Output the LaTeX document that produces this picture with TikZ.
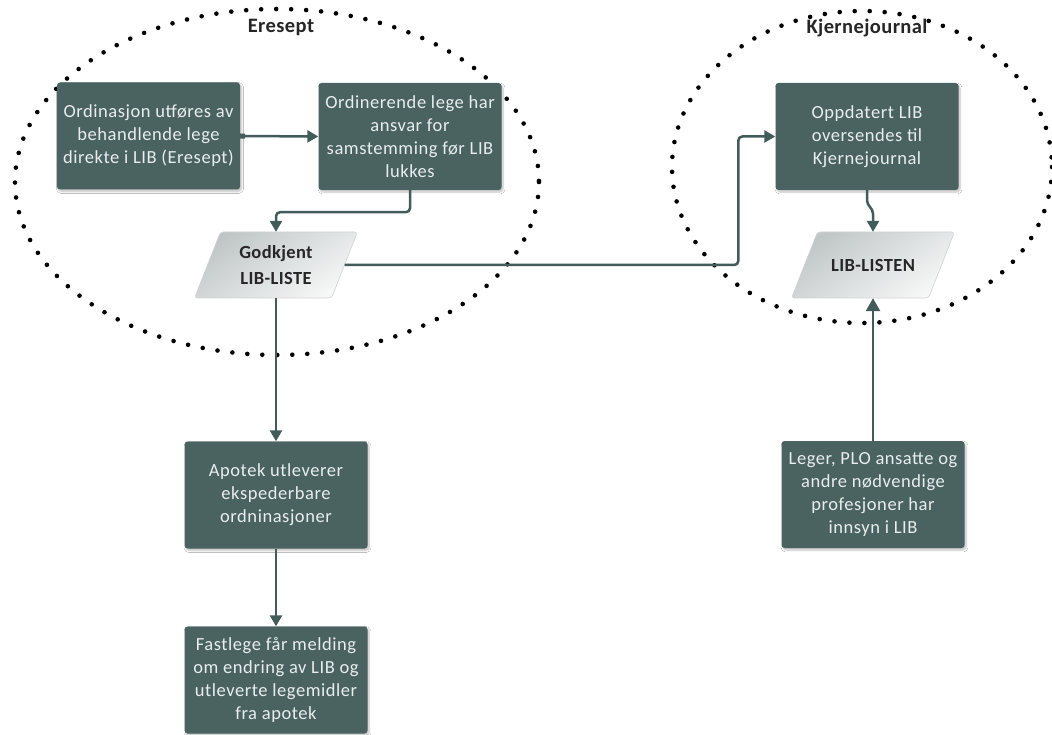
\documentclass[tikz,border=0pt]{standalone}
\usepackage{fontspec}
\setmainfont{Carlito}
\newfontfamily\boxfont{Carlito}[LetterSpace=3]
\newfontfamily\lblfont{Carlito}[LetterSpace=2]
\usetikzlibrary{arrows.meta,calc,shadows.blur}
\definecolor{boxfill}{RGB}{74,99,97}
\definecolor{linec}{RGB}{66,92,90}
\definecolor{boxtext}{RGB}{232,238,237}
\definecolor{pgA}{RGB}{192,198,198}
\definecolor{pgB}{RGB}{246,247,247}
\begin{document}
\begin{tikzpicture}[x=1pt,y=-1pt,
  procbox/.style={rectangle, rounded corners=3pt, fill=boxfill, text=boxtext, minimum width=183pt, minimum height=107pt, align=center, font=\boxfont\fontsize{18.5}{23}\selectfont, inner sep=2pt, blur shadow={shadow xshift=1.5pt, shadow yshift=-2pt, shadow opacity=25, shadow blur steps=6}},
  pgtext/.style={rectangle, minimum width=137pt, minimum height=66pt, inner sep=0pt, align=center, font=\lblfont\fontsize{18.5}{26}\selectfont\bfseries, text=black!85},
  pgshape/.style={top color=pgA, bottom color=pgB, shading angle=35, draw=gray!35, line width=0.6pt, rounded corners=3pt},
  conn/.style={draw=linec, line width=2.5pt, rounded corners=4pt, -{Triangle[length=11pt,width=12pt]}},
  dotring/.style={line width=4.6pt, dash pattern=on 0pt off 15pt, line cap=round, black},
  ringlabel/.style={font=\lblfont\fontsize{20.5}{24}\selectfont\bfseries, text=black!85}
]
\useasboundingbox (0,0) rectangle (1052,735);
\fill[white] (0,0) rectangle (1052,735);

% dotted rings
\draw[dotring] (277,182) ellipse [x radius=262, y radius=173];
\draw[dotring] (862,167) ellipse [x radius=190, y radius=156];
\node[ringlabel] (lblE) at (281,27) {Eresept};
\node[ringlabel] (lblK) at (867,28) {Kjernejournal};

% process boxes
\node[procbox] (b1) at (148.5,136) {Ordinasjon utføres av\\behandlende lege\\direkte i LIB (Eresept)};
\node[procbox] (b2) at (410,136.5) {Ordinerende lege har\\ansvar for\\samstemming før LIB\\lukkes};
\node[procbox] (b3) at (867,136.5) {Oppdatert LIB\\oversendes til\\Kjernejournal};
\node[procbox] (apo) at (276,495) {Apotek utleverer\\ekspederbare\\ordninasjoner};
\node[procbox] (fast) at (276,680) {Fastlege får melding\\om endring av LIB og\\utleverte legemidler\\fra apotek};
\node[procbox] (leg) at (873,494.5) {Leger, PLO ansatte og\\andre nødvendige\\profesjoner har\\innsyn i LIB};

% parallelograms
\coordinate (gkc) at (276,265);
\path[pgshape] ($(gkc)+(-81.5,33)$) -- ($(gkc)+(55.5,33)$) -- ($(gkc)+(81.5,-33)$) -- ($(gkc)+(-55.5,-33)$) -- cycle;
\node[pgtext] (gk) at (gkc) {Godkjent\\LIB-LISTE};

\coordinate (libc) at (873,265);
\path[pgshape] ($(libc)+(-81.5,33)$) -- ($(libc)+(55.5,33)$) -- ($(libc)+(81.5,-33)$) -- ($(libc)+(-55.5,-33)$) -- cycle;
\node[pgtext] (lib) at (libc) {LIB-LISTEN};

% connectors
\draw[conn, {Square[length=5pt,width=5pt]}-{Triangle[length=11pt,width=12pt]}] (b1.east) -- (b2.west);
\draw[conn] (b2.south) -- ++(0,22) -| (gk.north);
\draw[conn] (gk.east) -| ($(b3.west)+(-37,0)$) -- (b3.west);
\draw[conn] (b3.south) -- ++(0,14) -- ($(lib.north)+(0,-22)$) -- (lib.north);
\draw[conn] (gk.south) -- (apo.north);
\draw[conn] (apo.south) -- (fast.north);
\draw[conn, -{Triangle[length=13pt,width=14pt]}] (leg.north) -- (lib.south);
\end{tikzpicture}
\end{document}
